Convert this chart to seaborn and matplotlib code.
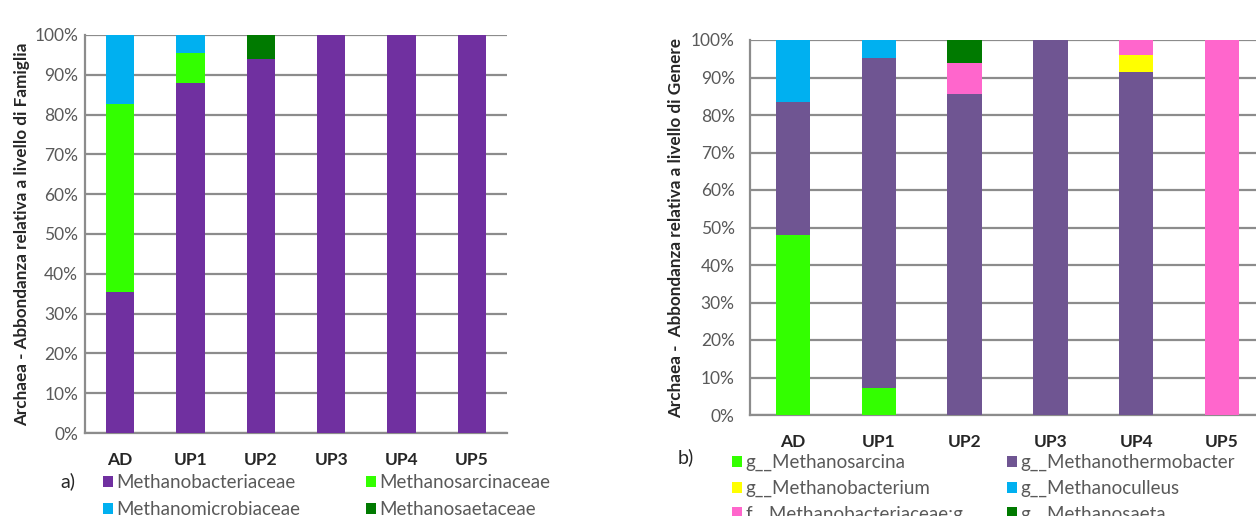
import matplotlib
matplotlib.use("Agg")
import matplotlib.pyplot as plt
from matplotlib.patches import Patch
from matplotlib.ticker import FixedLocator, PercentFormatter
import numpy as np
import seaborn as sns

samples = ["AD", "UP1", "UP2", "UP3", "UP4", "UP5"]

# a) family level (%), bottom -> top
fam_names = ["Methanobacteriaceae", "Methanosarcinaceae", "Methanomicrobiaceae", "Methanosaetaceae"]
fam_bacteriaceae = [35.5, 88.0, 94.0, 100.0, 100.0, 100.0]
fam_sarcinaceae = [47.2, 7.5, 0.0, 0.0, 0.0, 0.0]
fam_microbiaceae = [17.3, 4.5, 0.0, 0.0, 0.0, 0.0]
fam_saetaceae = [0.0, 0.0, 6.0, 0.0, 0.0, 0.0]
fam_colors = ["#7030A0", "#33FF00", "#00B0F0", "#007A00"]

# b) genus level (%), bottom -> top
gen_names = ["g__Methanosarcina", "g__Methanothermobacter", "g__Methanobacterium",
             "g__Methanoculleus", "f__Methanobacteriaceae;g", "g__Methanosaeta"]
gen_sarcina = [48.0, 7.2, 0.0, 0.0, 0.0, 0.0]
gen_thermobacter = [35.5, 88.0, 85.5, 100.0, 91.5, 0.0]
gen_bacterium = [0.0, 0.0, 0.0, 0.0, 4.5, 0.0]
gen_culleus = [16.5, 4.8, 0.0, 0.0, 0.0, 0.0]
gen_fam_unclass = [0.0, 0.0, 8.5, 0.0, 4.0, 100.0]
gen_saeta = [0.0, 0.0, 6.0, 0.0, 0.0, 0.0]
gen_colors = ["#33FF00", "#6F5592", "#FFFF00", "#00B0F0", "#FF66CC", "#007A00"]

sns.set_theme(style="white")
plt.rcParams["font.family"] = ["Lato", "DejaVu Sans"]

GRID = "#8C8C8C"
TXT = "#595959"


def stacked(ax, layers, colors, ylabel, ypad, labelpad):
    cum = np.cumsum(np.array(layers), axis=0)
    # draw tallest cumulative first so lower layers sit on top
    for i in range(len(layers) - 1, -1, -1):
        sns.barplot(x=samples, y=cum[i], color=colors[i], width=0.4, saturation=1,
                    linewidth=0, ax=ax, zorder=3)
    ax.set_xlim(-0.5, 5.5)
    ax.set_ylim(0, 100)
    ax.yaxis.set_major_locator(FixedLocator(np.arange(0, 101, 10)))
    ax.yaxis.set_major_formatter(PercentFormatter(decimals=0))
    ax.grid(axis="y", color=GRID, linewidth=1.6, zorder=0)
    ax.set_axisbelow(True)
    for s in ["top", "right"]:
        ax.spines[s].set_visible(False)
    for s in ["left", "bottom"]:
        ax.spines[s].set_color(GRID)
        ax.spines[s].set_linewidth(1.6)
    ax.xaxis.set_minor_locator(FixedLocator(np.arange(-0.5, 6, 1)))
    ax.tick_params(axis="x", which="major", length=0, pad=14, labelsize=12.5)
    ax.tick_params(axis="x", which="minor", length=5, width=1.6, color=GRID, direction="out")
    ax.tick_params(axis="y", length=4, width=1.6, color=GRID, direction="out",
                   labelsize=12.5, labelcolor=TXT, pad=ypad)
    for t in ax.get_xticklabels():
        t.set_fontweight("bold")
    ax.set_xlabel("")
    ax.set_ylabel(ylabel, fontsize=12.3, fontweight="bold", labelpad=labelpad)


def legend(ax, names, colors, anchor, colsp, lsp):
    handles = [Patch(facecolor=c, edgecolor="none") for c in colors]
    # matplotlib fills legend columns first; reorder so entries read row by row
    order = list(range(0, len(names), 2)) + list(range(1, len(names), 2))
    leg = ax.legend([handles[i] for i in order], [names[i] for i in order],
                    ncol=2, loc="upper left", bbox_to_anchor=anchor,
                    bbox_transform=ax.figure.transFigure, frameon=False,
                    fontsize=13.5, handlelength=0.53, handleheight=0.53,
                    handletextpad=0.2, columnspacing=colsp, labelspacing=lsp,
                    borderpad=0, borderaxespad=0)
    for t in leg.get_texts():
        t.set_color(TXT)


fig = plt.figure(figsize=(12.56, 5.16), dpi=100)
W, H = 1256, 516

ax1 = fig.add_axes([85 / W, (H - 433) / H, 422 / W, 398 / H])
stacked(ax1, [fam_bacteriaceae, fam_sarcinaceae, fam_microbiaceae, fam_saetaceae],
        fam_colors, "Archaea - Abbondanza relativa a livello di Famiglia", 1, 3)
legend(ax1, fam_names, fam_colors, (103 / W, 1 - 474 / H), 3.47, 0.55)
fig.text(60 / W, 1 - 481 / H, "a)", fontsize=14, va="center", ha="left")

ax2 = fig.add_axes([750 / W, (H - 415) / H, 515 / W, 375 / H])
stacked(ax2, [gen_sarcina, gen_thermobacter, gen_bacterium, gen_culleus, gen_fam_unclass, gen_saeta],
        gen_colors, "Archaea -  Abbondanza relativa a livello di Genere", 7, 5)
legend(ax2, gen_names, gen_colors, (732 / W, 1 - 454 / H), 2.3, 0.45)
fig.text(678 / W, 1 - 457 / H, "b)", fontsize=14, va="center", ha="left")

fig.savefig("out.png", dpi=100, facecolor="white")
